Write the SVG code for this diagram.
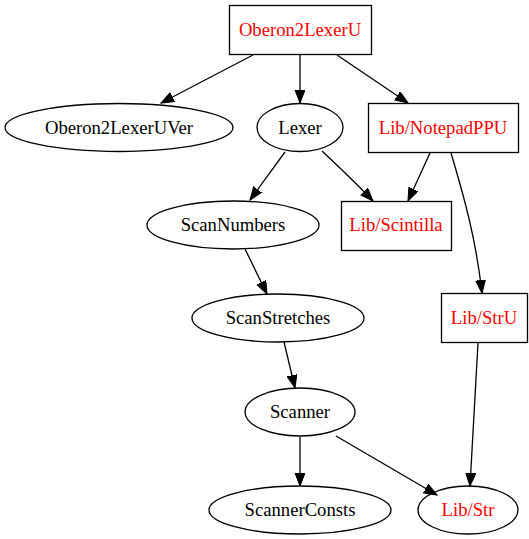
<svg xmlns="http://www.w3.org/2000/svg" width="529" height="539" viewBox="0 0 529 539">
<style>
.n{fill:none;stroke:#000;stroke-width:1.3}
.t{font-family:'Liberation Serif','Times New Roman',serif;font-size:18.67px;text-anchor:middle;fill:#000}
.r{fill:#ff0000}
.e{fill:none;stroke:#000;stroke-width:1.3}
</style>
<defs>
<marker id="a" markerUnits="userSpaceOnUse" markerWidth="16" markerHeight="12" refX="13" refY="5" orient="auto">
<polygon points="0,0 13,5 0,10" fill="#000" stroke="#000" stroke-width="1"/>
</marker>
</defs>
<rect width="529" height="539" fill="#fff"/>
<g id="edges">
<path class="e" marker-end="url(#a)" d="M253,55 L161,103"/>
<path class="e" marker-end="url(#a)" d="M300,55 L300,103"/>
<path class="e" marker-end="url(#a)" d="M337,55 L408,103"/>
<path class="e" marker-end="url(#a)" d="M285,152 L250,200"/>
<path class="e" marker-end="url(#a)" d="M322,151 C338,166 356,183 373,201"/>
<path class="e" marker-end="url(#a)" d="M430,153 L408,201"/>
<path class="e" marker-end="url(#a)" d="M451,153 C465,200 476,240 482,293"/>
<path class="e" marker-end="url(#a)" d="M245,249 L267,294"/>
<path class="e" marker-end="url(#a)" d="M284,342 L295,388"/>
<path class="e" marker-end="url(#a)" d="M478,343 L470,486"/>
<path class="e" marker-end="url(#a)" d="M300,437 L300,486"/>
<path class="e" marker-end="url(#a)" d="M336,436 L437,495"/>
</g>
<g id="Oberon2LexerU"><rect class="n" x="229.5" y="5.5" width="142" height="49"/><text class="t r" x="300" y="36">Oberon2LexerU</text></g>
<g id="Oberon2LexerUVer"><ellipse class="n" cx="119" cy="127.5" rx="114" ry="24"/><text class="t" x="119" y="134">Oberon2LexerUVer</text></g>
<g id="Lexer"><ellipse class="n" cx="300" cy="127.5" rx="43" ry="24"/><text class="t" x="300" y="134">Lexer</text></g>
<g id="Lib_NotepadPPU"><rect class="n" x="368.5" y="103.5" width="150" height="49"/><text class="t r" x="443" y="134">Lib/NotepadPPU</text></g>
<g id="ScanNumbers"><ellipse class="n" cx="233" cy="225" rx="86" ry="24"/><text class="t" x="233" y="231">ScanNumbers</text></g>
<g id="Lib_Scintilla"><rect class="n" x="341.5" y="201.5" width="110" height="49"/><text class="t r" x="396" y="231">Lib/Scintilla</text></g>
<g id="ScanStretches"><ellipse class="n" cx="278" cy="318" rx="86" ry="24"/><text class="t" x="278" y="324">ScanStretches</text></g>
<g id="Lib_StrU"><rect class="n" x="441.5" y="293.5" width="86" height="49"/><text class="t r" x="484" y="324">Lib/StrU</text></g>
<g id="Scanner"><ellipse class="n" cx="300" cy="412" rx="55" ry="24"/><text class="t" x="300" y="418">Scanner</text></g>
<g id="ScannerConsts"><ellipse class="n" cx="300" cy="510" rx="91" ry="24"/><text class="t" x="300" y="516">ScannerConsts</text></g>
<g id="Lib_Str"><ellipse class="n" cx="468" cy="510" rx="50" ry="24"/><text class="t r" x="468" y="516">Lib/Str</text></g>
</svg>
